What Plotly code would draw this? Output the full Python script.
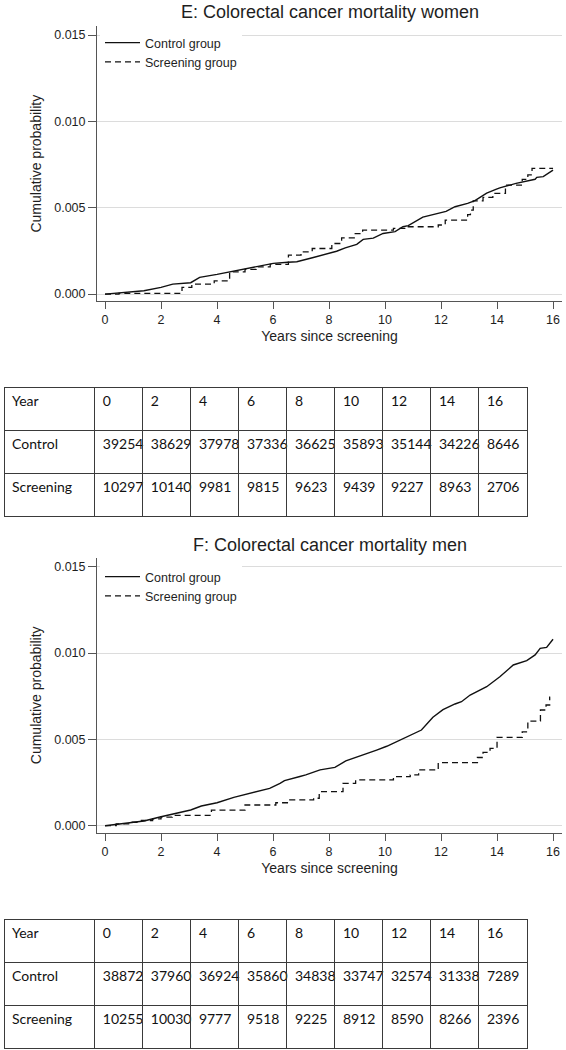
import plotly.graph_objects as go

W, H = 566, 1050

# ---------------- data ----------------
women_ctrl_t = [0, 0.75, 1.39, 2.0, 2.42, 3.06, 3.38, 4.0, 4.47, 5.24, 6.01, 6.53, 6.85, 7.44, 8.0, 8.27,
                8.58, 8.99, 9.22, 9.58, 9.93, 10.36, 10.64, 10.83, 11.35, 11.49, 12.18, 12.5, 12.95, 13.21,
                13.46, 13.63, 13.98, 14.1, 14.68, 14.82, 15.14, 15.36, 15.42, 15.65, 16.0]
women_ctrl_p = [0, 0.00008, 0.00019, 0.00039, 0.00058, 0.00066, 0.00097, 0.00114, 0.00129, 0.00155, 0.00178,
                0.00184, 0.00187, 0.00212, 0.00236, 0.00248, 0.00268, 0.00288, 0.00317, 0.00324, 0.00351,
                0.00362, 0.0039, 0.00396, 0.00446, 0.00451, 0.00479, 0.00506, 0.00525, 0.00541, 0.00569,
                0.00585, 0.00608, 0.00615, 0.00641, 0.00646, 0.0066, 0.00665, 0.00676, 0.0068, 0.00718]

women_scr_t = [0, 0.5, 2.75, 3.1, 3.9, 4.45, 5.0, 5.4, 5.9, 6.55, 7.0, 7.4, 8.1, 8.45, 8.9, 9.2, 10.3, 10.75,
               11.9, 12.15, 12.95, 13.05, 13.15, 13.5, 13.85, 14.3, 14.9, 15.1, 15.25, 16.0]
women_scr_p = [0, 0.00004, 0.00039, 0.00058, 0.00077, 0.00129, 0.00143, 0.00158, 0.00172, 0.00226, 0.00245,
               0.00264, 0.00293, 0.00326, 0.0035, 0.0037, 0.0038, 0.0039, 0.004, 0.00428, 0.0046, 0.00486,
               0.0054, 0.0056, 0.00583, 0.00631, 0.00664, 0.0069, 0.00728, 0.00728]

men_ctrl_t = [0, 0.75, 1.39, 2.0, 2.67, 3.06, 3.44, 4.0, 4.6, 5.24, 5.88, 6.25, 6.41, 6.96, 7.17, 7.68, 8.21,
              8.6, 9.1, 9.7, 10.06, 10.54, 11.0, 11.3, 11.71, 12.07, 12.5, 12.73, 13.04, 13.63, 14.1, 14.58,
              15.06, 15.36, 15.54, 15.77, 16.0]
men_ctrl_p = [0, 0.00014, 0.00027, 0.00052, 0.00075, 0.00091, 0.00114, 0.00133, 0.00164, 0.00188, 0.00216,
              0.00245, 0.00261, 0.00285, 0.00294, 0.00323, 0.00338, 0.00375, 0.00402, 0.00438, 0.0046, 0.00497,
              0.0053, 0.00554, 0.00628, 0.00672, 0.00705, 0.00718, 0.00757, 0.00805, 0.00863, 0.00931, 0.00956,
              0.00989, 0.01027, 0.01033, 0.0108]

men_scr_t = [0, 0.4, 0.9, 1.3, 1.7, 2.0, 2.4, 3.8, 5.0, 6.1, 6.6, 7.45, 7.65, 8.5, 8.95, 10.3, 10.9, 11.2,
             11.9, 13.3, 13.5, 13.75, 14.0, 14.9, 15.1, 15.55, 15.75, 15.88, 15.9]
men_scr_p = [0, 0.0001, 0.0002, 0.0003, 0.0004, 0.0005, 0.0006, 0.0009, 0.0012, 0.00133, 0.00149, 0.00159,
             0.00197, 0.00245, 0.00265, 0.00284, 0.00294, 0.00323, 0.00365, 0.00395, 0.00425, 0.00448,
             0.00512, 0.00544, 0.00606, 0.0067, 0.00699, 0.00744, 0.00744]

table_years = ["0", "2", "4", "6", "8", "10", "12", "14", "16"]
women_ctrl_risk = [39254, 38629, 37978, 37336, 36625, 35893, 35144, 34226, 8646]
women_scr_risk = [10297, 10140, 9981, 9815, 9623, 9439, 9227, 8963, 2706]
men_ctrl_risk = [38872, 37960, 36924, 35860, 34838, 33747, 32574, 31338, 7289]
men_scr_risk = [10255, 10030, 9777, 9518, 9225, 8912, 8590, 8266, 2396]

titles = ["E: Colorectal cancer mortality women", "F: Colorectal cancer mortality men"]
x_ticks = [0, 2, 4, 6, 8, 10, 12, 14, 16]
y_ticks = [0.0, 0.005, 0.010, 0.015]

# ---------------- figure ----------------
def px_x(p):
    return p / W

def px_y(p):
    return 1 - p / H

AXIS_FONT = "Liberation Sans, Arial, sans-serif"
TXT = "#1e1e1e"
AX = "#555555"

fig = go.Figure()

panels = [
    dict(ct=women_ctrl_t, cp=women_ctrl_p, st=women_scr_t, sp=women_scr_p, xa="x", ya="y", leg="legend"),
    dict(ct=men_ctrl_t, cp=men_ctrl_p, st=men_scr_t, sp=men_scr_p, xa="x2", ya="y2", leg="legend2"),
]
for pnl in panels:
    fig.add_trace(go.Scatter(x=pnl["ct"], y=pnl["cp"], mode="lines", name="Control group",
                             line=dict(color="#111111", width=1.4, shape="linear"),
                             xaxis=pnl["xa"], yaxis=pnl["ya"], legend=pnl["leg"], hoverinfo="skip"))
    fig.add_trace(go.Scatter(x=pnl["st"], y=pnl["sp"], mode="lines", name="Screening group",
                             line=dict(color="#111111", width=1.3, shape="hv", dash="6px,4px"),
                             xaxis=pnl["xa"], yaxis=pnl["ya"], legend=pnl["leg"], hoverinfo="skip"))

# plot areas (pixel)
x_dom = [px_x(97), px_x(562)]
top_dom = [px_y(301), px_y(26.4)]
bot_dom = [px_y(832.6), px_y(558.1)]
yr = [-0.0004, 0.0155]
xr = [-0.286, 16.32]

def xaxis(domain_anchor):
    return dict(domain=x_dom, range=xr, anchor=domain_anchor, tickmode="array", tickvals=x_ticks,
                ticks="outside", ticklen=7, tickcolor=AX, showline=True, linecolor=AX, linewidth=1,
                showgrid=False, zeroline=False, automargin=False,
                tickfont=dict(family=AXIS_FONT, size=12.5, color=TXT),
                title=dict(text="Years since screening", standoff=5,
                           font=dict(family=AXIS_FONT, size=14, color=TXT)))

def yaxis(domain, anchor):
    return dict(domain=domain, range=yr, anchor=anchor, tickmode="array", tickvals=y_ticks,
                tickformat=".3f", ticks="outside", ticklen=8, tickcolor=AX, showline=True, linecolor=AX,
                linewidth=1, showgrid=True, gridcolor="#dcdcdc", gridwidth=1, zeroline=False,
                automargin=False, tickfont=dict(family=AXIS_FONT, size=12.5, color=TXT),
                title=dict(text="Cumulative probability", standoff=9,
                           font=dict(family=AXIS_FONT, size=14, color=TXT)))

legend_common = dict(bgcolor="white", borderwidth=0, xanchor="left", yanchor="top",
                     font=dict(family=AXIS_FONT, size=12.5, color=TXT), itemwidth=35,
                     tracegroupgap=0, traceorder="normal")

fig.update_layout(
    width=W, height=H, margin=dict(l=0, r=0, t=0, b=0, autoexpand=False),
    paper_bgcolor="white", plot_bgcolor="white", showlegend=True,
    xaxis=xaxis("y"), yaxis=yaxis(top_dom, "x"),
    xaxis2=xaxis("y2"), yaxis2=yaxis(bot_dom, "x2"),
    legend=dict(x=px_x(100), y=px_y(28), **legend_common),
    legend2=dict(x=px_x(100), y=px_y(562), **legend_common),
)

for title, ycen in zip(titles, [12, 545]):
    fig.add_annotation(text=title, x=px_x(329.5), y=px_y(ycen), xref="paper", yref="paper",
                       xanchor="center", yanchor="middle", showarrow=False,
                       font=dict(family=AXIS_FONT, size=18, color=TXT))

# ---------------- tables ----------------
TFONT = "Lato, Carlito, Calibri, sans-serif"
for ctrl, scr, top in [(women_ctrl_risk, women_scr_risk, 387), (men_ctrl_risk, men_scr_risk, 919)]:
    header_vals = ["Year"] + table_years
    cell_vals = [["Control", "Screening"]] + [[str(c), str(s)] for c, s in zip(ctrl, scr)]
    fig.add_trace(go.Table(
        domain=dict(x=[px_x(4), px_x(527)], y=[max(0, px_y(top + 131)), px_y(top)]),
        columnwidth=[91] + [48.1] * 9,
        header=dict(values=header_vals, align="left", height=43,
                    line=dict(color="#3a3a3a", width=1), fill=dict(color="rgba(0,0,0,0)"),
                    font=dict(family=TFONT, size=14, color="#111111")),
        cells=dict(values=cell_vals, align="left", height=43,
                   line=dict(color="#3a3a3a", width=1), fill=dict(color="rgba(0,0,0,0)"),
                   font=dict(family=TFONT, size=14, color="#111111")),
    ))

fig.write_html("out.html", config={"displayModeBar": False},
               post_script="document.body.style.margin='0';document.body.style.overflow='hidden';")
